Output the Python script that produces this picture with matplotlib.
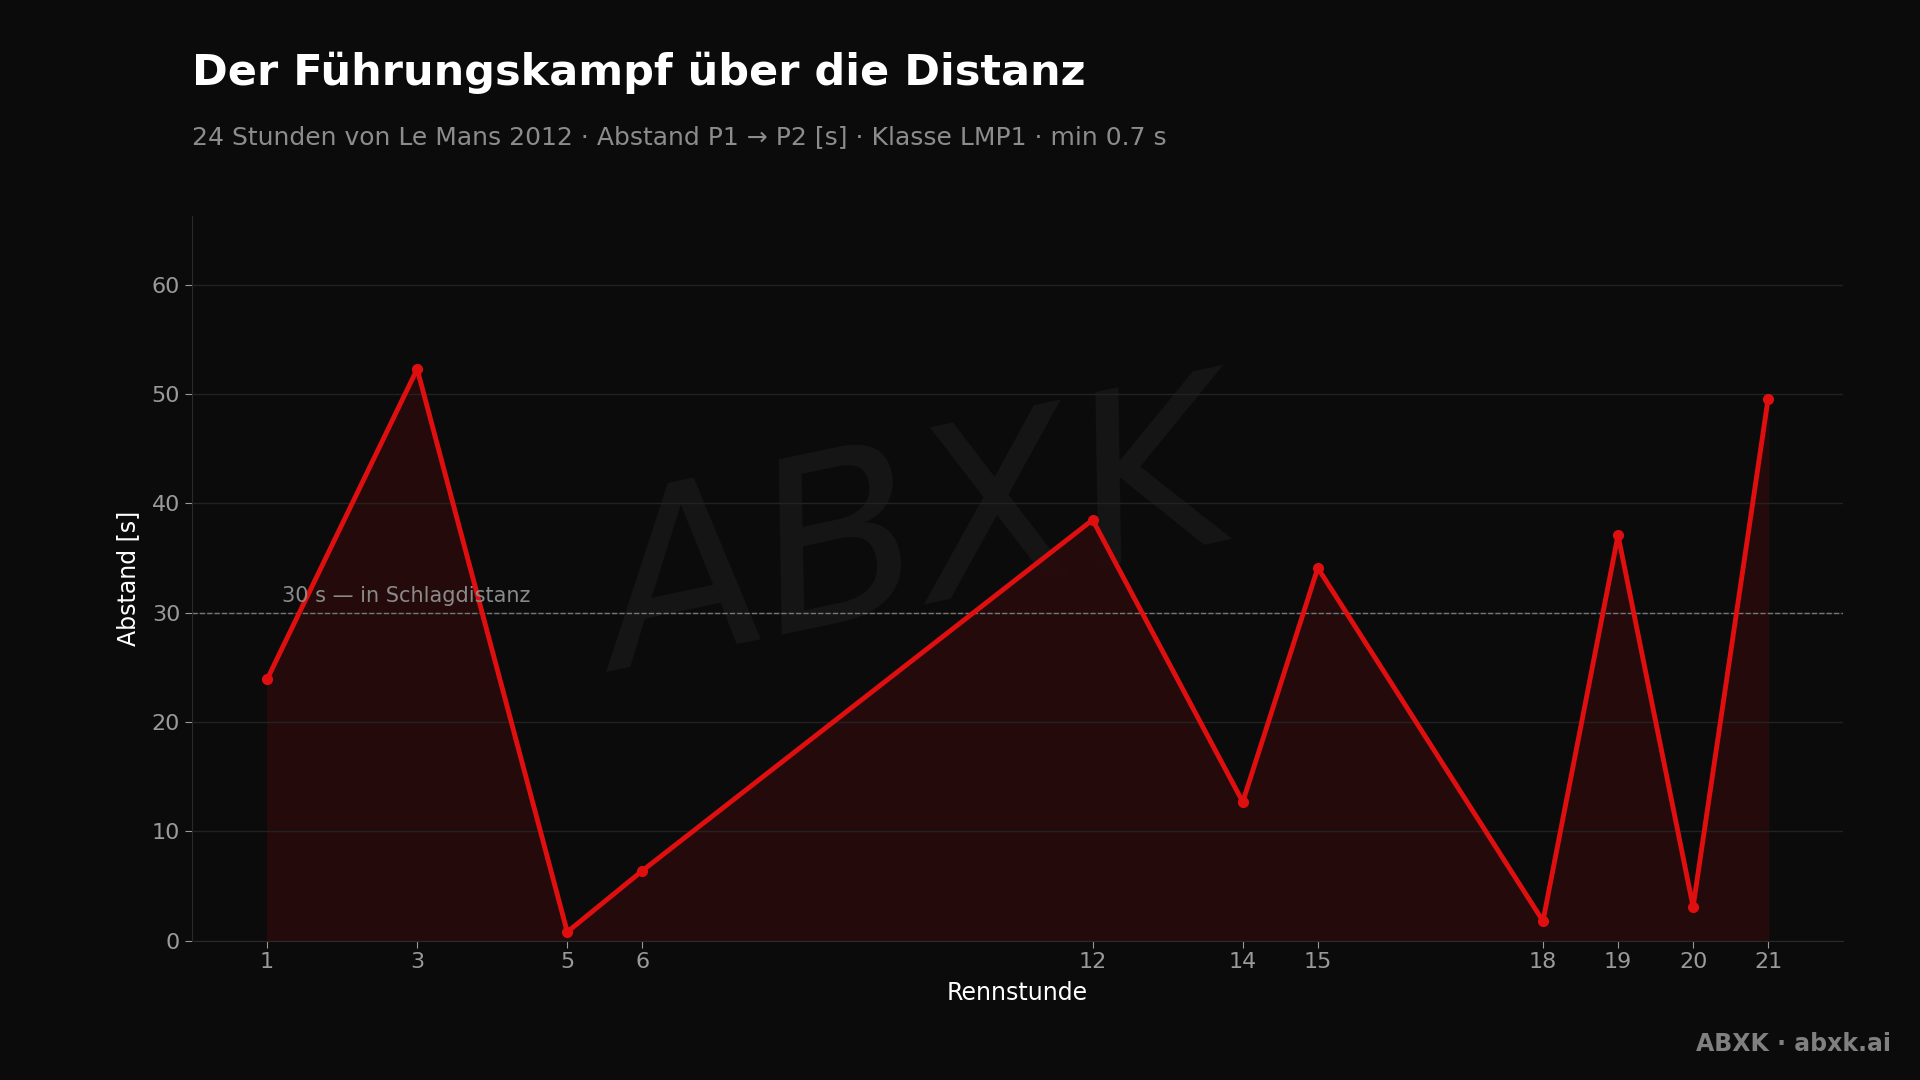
import matplotlib.pyplot as plt

stunden = [1, 3, 5, 6, 12, 14, 15, 18, 19, 20, 21]
abstand = [23.9, 52.3, 0.8, 6.4, 38.5, 12.7, 34.1, 1.8, 37.1, 3.1, 49.6]

bg = "#0b0b0b"
rot = "#e00f0f"

fig = plt.figure(figsize=(19.2, 10.8), dpi=100, facecolor=bg)
ax = fig.add_axes([0.100, 0.129, 0.860, 0.671], facecolor=bg)

# Wasserzeichen
ax.text(0.44, 0.55, "ABXK", transform=ax.transAxes, fontsize=170, color="#161616",
        style="italic", ha="center", va="center", rotation=12, zorder=0)

ax.fill_between(stunden, abstand, 0, color="#2a0a0b", alpha=0.85, zorder=1)
ax.plot(stunden, abstand, color=rot, lw=3.5, marker="o", ms=7, zorder=3)

ax.axhline(30, color="#777777", lw=1, ls="--", zorder=2)
ax.text(1.2, 30.6, "30 s — in Schlagdistanz", color="#8a8a8a", fontsize=15, va="bottom")

ax.set_xlim(0, 22)
ax.set_ylim(0, 66.3)
ax.set_xticks(stunden)
ax.set_yticks(range(0, 61, 10))
ax.grid(axis="y", color="#222222", lw=1)
ax.tick_params(colors="#9a9a9a", labelsize=16, length=5)
for s in ["top", "right"]:
    ax.spines[s].set_visible(False)
for s in ["left", "bottom"]:
    ax.spines[s].set_color("#2a2a2a")
ax.set_xlabel("Rennstunde", color="white", fontsize=17, labelpad=6)
ax.set_ylabel("Abstand [s]", color="white", fontsize=17, labelpad=8)

fig.text(0.100, 0.933, "Der Führungskampf über die Distanz", color="white",
         fontsize=31, fontweight="bold", va="center")
fig.text(0.100, 0.873, "24 Stunden von Le Mans 2012 · Abstand P1 → P2 [s] · Klasse LMP1 · min 0.7 s",
         color="#8c8c8c", fontsize=18, va="center")
fig.text(0.985, 0.033, "ABXK · abxk.ai", color="#808080", fontsize=17,
         fontweight="bold", ha="right", va="center")

fig.savefig("out.png", dpi=100, facecolor=bg)
